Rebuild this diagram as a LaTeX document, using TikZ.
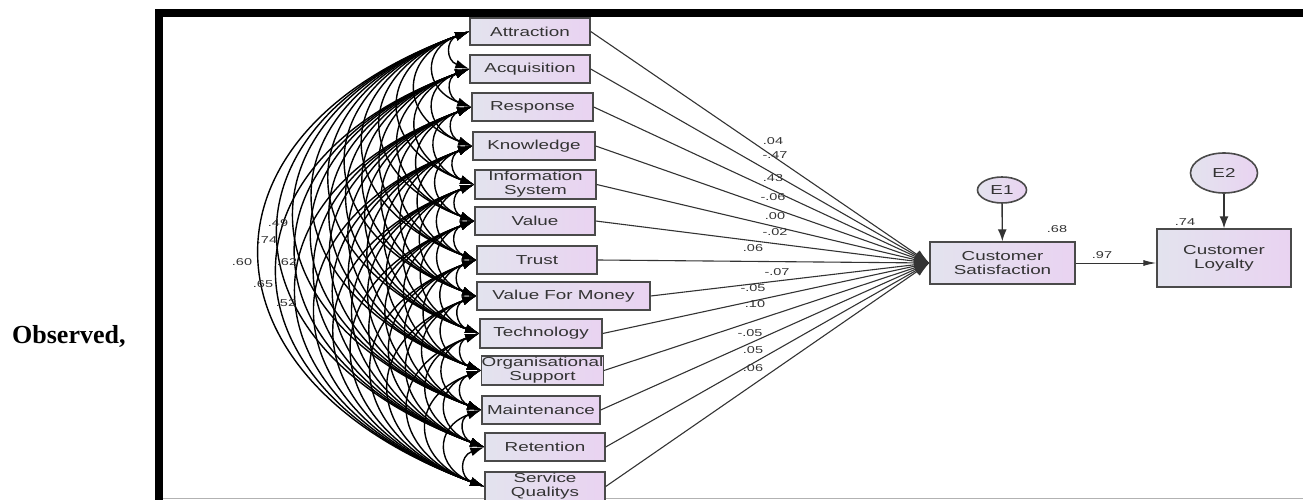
\documentclass[tikz,border=0pt]{standalone}
\usepackage{fontspec}
\setmainfont{Liberation Serif}
\newfontfamily\arialf{Liberation Sans}
\usepackage{graphicx}
\usetikzlibrary{arrows.meta,shapes.geometric}
\definecolor{boxL}{HTML}{E3E3EE}
\definecolor{boxR}{HTML}{E9D3F1}
\definecolor{edgeC}{HTML}{4A4A4A}
\definecolor{txtC}{HTML}{333333}
\newcommand{\stx}[1]{\scalebox{1.45}[1]{#1}}
\newcommand{\slab}[1]{\scalebox{1.45}[1]{#1}}
\begin{document}
\begin{tikzpicture}[x=1pt,y=1pt,
  boxnode/.style={draw=edgeC, line width=1.4pt, left color=boxL, right color=boxR,
    inner sep=0pt, font=\arialf\fontsize{13}{14}\selectfont, text=txtC, align=center},
  errnode/.style={ellipse, draw=edgeC, line width=1.6pt, left color=boxL, right color=boxR,
    inner sep=0pt, font=\arialf\fontsize{13}{14}\selectfont, text=txtC},
  cov/.style={line width=1.4pt, black, {Latex[length=14pt,width=9pt]}-{Latex[length=14pt,width=9pt]}},
  pathline/.style={line width=1.1pt, draw=txtC, -{Latex[length=15pt,width=10pt]}},
  coef/.style={font=\arialf\fontsize{10}{11}\selectfont, text=txtC, inner sep=0pt},
  obs/.style={font=\bfseries\fontsize{26}{30}\selectfont, inner sep=0pt, anchor=base west}
]
\useasboundingbox (0,0) rectangle (1303,-500);
% frame
\fill[black] (155,-9) rectangle (1303,-17);
\fill[black] (155,-9) rectangle (163,-500);
\draw[gray!60, line width=0.8pt] (163,-498.5) -- (1303,-498.5);

\node[obs] (obsv) at (12,-343) {Observed,};

% predictor boxes
\node[boxnode, minimum width=120pt, minimum height=27pt] (b1) at (530,-31.5) {\stx{Attraction}};
\node[boxnode, minimum width=120pt, minimum height=28pt] (b2) at (530,-69) {\stx{Acquisition}};
\node[boxnode, minimum width=121pt, minimum height=28pt] (b3) at (532.5,-107) {\stx{Response}};
\node[boxnode, minimum width=122pt, minimum height=28pt] (b4) at (534,-146) {\stx{Knowledge}};
\node[boxnode, minimum width=121pt, minimum height=29pt] (b5) at (535.5,-184.5) {\stx{Information}\\\stx{System}};
\node[boxnode, minimum width=120pt, minimum height=28pt] (b6) at (535,-221) {\stx{Value}};
\node[boxnode, minimum width=120pt, minimum height=28pt] (b7) at (537,-260) {\stx{Trust}};
\node[boxnode, minimum width=173pt, minimum height=28pt] (b8) at (563.5,-296) {\stx{Value For Money}};
\node[boxnode, minimum width=122pt, minimum height=29pt] (b9) at (541,-333.5) {\stx{Technology}};
\node[boxnode, minimum width=121pt, minimum height=29pt] (b10) at (542.5,-370.5) {\stx{Organisational}\\\stx{Support}};
\node[boxnode, minimum width=118pt, minimum height=28pt] (b11) at (541,-410) {\stx{Maintenance}};
\node[boxnode, minimum width=120pt, minimum height=28pt] (b12) at (545,-447) {\stx{Retention}};
\node[boxnode, minimum width=120pt, minimum height=29pt] (b13) at (545,-486.5) {\stx{Service}\\\stx{Qualitys}};

% outcome boxes and errors
\node[boxnode, minimum width=145pt, minimum height=42pt] (CS) at (1002.5,-263) {\stx{Customer}\\\stx{Satisfaction}};
\node[boxnode, minimum width=134pt, minimum height=58pt] (CL) at (1224,-258) {\stx{Customer}\\\stx{Loyalty}};
\node[errnode, minimum width=49pt, minimum height=26pt] (E1) at (1002,-190) {\stx{E1}};
\node[errnode, minimum width=67pt, minimum height=40pt] (E2) at (1224,-173) {\stx{E2}};

% covariance arcs
\foreach \i in {1,...,12}{
  \pgfmathtruncatemacro{\s}{\i+1}
  \foreach \j in {\s,...,13}{
    \draw[cov] (b\i.west) to[out=200,in=160,looseness=1.72] (b\j.west);
  }
}

% structural paths
\foreach \i in {1,...,13}{
  \draw[pathline] (b\i.east) -- (CS.west);
}
\draw[line width=1.4pt, draw=txtC, -{Latex[length=12pt,width=9pt]}] (E1) -- (CS);
\draw[line width=1.4pt, draw=txtC, -{Latex[length=12pt,width=9pt]}] (E2) -- (CL);
\draw[line width=1pt, draw=txtC, -{Latex[length=13pt,width=6pt]}] (CS.east) -- (CS.east -| CL.west);

% path coefficients
\node[coef] (c1) at (773,-141) {\slab{.04}};
\node[coef] (c2) at (775,-155) {\slab{-.47}};
\node[coef] (c3) at (773,-178) {\slab{.43}};
\node[coef] (c4) at (773,-197) {\slab{-.06}};
\node[coef] (c5) at (775,-216) {\slab{.00}};
\node[coef] (c6) at (775,-232) {\slab{-.02}};
\node[coef] (c7) at (753,-248) {\slab{.06}};
\node[coef] (c8) at (777,-272) {\slab{-.07}};
\node[coef] (c9) at (753,-288) {\slab{-.05}};
\node[coef] (c10) at (755,-304) {\slab{.10}};
\node[coef] (c11) at (750,-333) {\slab{-.05}};
\node[coef] (c12) at (753,-350) {\slab{.05}};
\node[coef] (c13) at (753,-368) {\slab{.06}};
\node[coef] (r1) at (1057,-229) {\slab{.68}};
\node[coef] (r2) at (1102,-255) {\slab{.97}};
\node[coef] (r3) at (1185,-222) {\slab{.74}};

% covariance labels
\node[coef] (k1) at (242,-262) {\slab{.60}};
\node[coef] (k2) at (267,-240) {\slab{.74}};
\node[coef] (k3) at (278,-223) {\slab{.49}};
\node[coef] (k4) at (263,-284) {\slab{.65}};
\node[coef] (k5) at (286,-303) {\slab{.52}};
\node[coef] (k6) at (287,-262) {\slab{.62}};
\end{tikzpicture}
\end{document}
